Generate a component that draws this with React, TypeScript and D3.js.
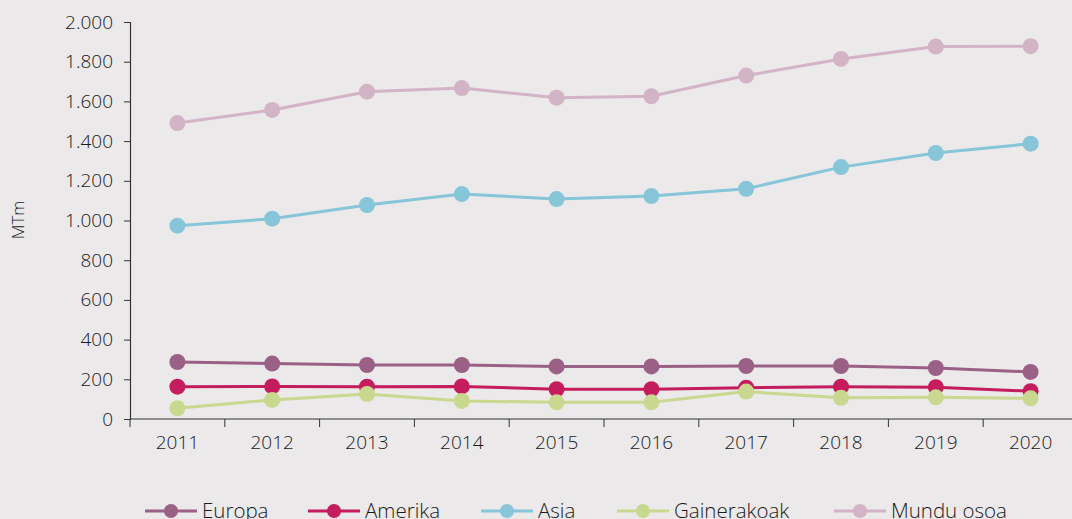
import React, { useRef, useEffect } from "react";
import * as d3 from "d3";

const years = ["2011", "2012", "2013", "2014", "2015", "2016", "2017", "2018", "2019", "2020"];
const europa = [287, 279, 272, 272, 265, 265, 267, 267, 257, 237];
const amerika = [163, 164, 163, 164, 150, 150, 158, 163, 160, 140];
const asia = [974, 1009, 1078, 1133, 1108, 1123, 1160, 1269, 1340, 1387];
const gainerakoak = [54, 96, 126, 91, 84, 84, 138, 107, 109, 104];
const munduOsoa = [1491, 1557, 1649, 1667, 1619, 1626, 1730, 1814, 1876, 1878];
const yTicks = [0, 200, 400, 600, 800, 1000, 1200, 1400, 1600, 1800, 2000];

const seriesNames = ["Europa", "Amerika", "Asia", "Gainerakoak", "Mundu osoa"];
const seriesColors = ["#9b6085", "#c51c5e", "#86c6d8", "#c8d98f", "#d3b4c6"];

const fmt = (v: number) => d3.format(",")(v).replace(/,/g, ".");

const App = () => {
  const svgRef = useRef<SVGSVGElement>(null);

  useEffect(() => {
    const width = 1072;
    const height = 519;
    const svg = d3.select(svgRef.current).attr("width", width).attr("height", height);
    svg.selectAll("*").remove();

    const font = "'Open Sans', sans-serif";
    const textColor = "#1a1a1a";
    svg.append("rect").attr("width", width).attr("height", height).attr("fill", "#ebe9ea");

    const left = 130;
    const x = d3.scaleBand().domain(years).range([left, left + 94.8 * 10]);
    const y = d3.scaleLinear().domain([0, 2000]).range([419, 22]);

    // y axis
    const yAxis = svg.append("g").attr("transform", `translate(${left},0)`)
      .call(d3.axisLeft(y).tickValues(yTicks).tickFormat((d) => fmt(+d)).tickSize(6).tickPadding(11));
    yAxis.select(".domain").attr("stroke", "#333").attr("stroke-width", 1.2);
    yAxis.selectAll(".tick line").attr("stroke", "#333");
    yAxis.selectAll("text").attr("font-family", font).attr("font-size", 19)
      .attr("font-weight", 300).attr("fill", textColor);

    // x axis
    const xAxis = svg.append("g").attr("transform", "translate(0,419)")
      .call(d3.axisBottom(x).tickSize(0).tickPadding(17));
    xAxis.select(".domain").attr("stroke", "#333").attr("stroke-width", 1.2)
      .attr("d", `M${left},0H${width}`);
    xAxis.selectAll("text").attr("font-family", font).attr("font-size", 19)
      .attr("font-weight", 300).attr("fill", textColor);
    xAxis.selectAll(".sep").data(years).enter().append("line")
      .attr("x1", (d) => x(d)!).attr("x2", (d) => x(d)!)
      .attr("y1", 0).attr("y2", 8).attr("stroke", "#333");

    svg.append("text")
      .attr("transform", "translate(24,220) rotate(-90)")
      .attr("text-anchor", "middle")
      .attr("font-family", font).attr("font-size", 17).attr("font-weight", 300)
      .attr("fill", textColor)
      .text("MTm");

    const allSeries = [europa, amerika, asia, gainerakoak, munduOsoa];
    const cx = (i: number) => x(years[i])! + x.bandwidth() / 2;
    const line = d3.line<number>().x((_, i) => cx(i)).y((d) => y(d));

    allSeries.forEach((vals, s) => {
      const g = svg.append("g");
      g.append("path").datum(vals).attr("d", line).attr("fill", "none")
        .attr("stroke", seriesColors[s]).attr("stroke-width", 3);
      g.selectAll("circle").data(vals).enter().append("circle")
        .attr("cx", (_, i) => cx(i)).attr("cy", (d) => y(d)).attr("r", 8)
        .attr("fill", seriesColors[s]);
    });

    // legend (cut at the bottom edge, as in the original)
    const legendX = [145, 308, 481, 617, 834];
    const legend = svg.append("g");
    seriesNames.forEach((name, s) => {
      const lg = legend.append("g").attr("transform", `translate(${legendX[s]},511)`);
      lg.append("line").attr("x1", 0).attr("x2", 52).attr("stroke", seriesColors[s]).attr("stroke-width", 3);
      lg.append("circle").attr("cx", 26).attr("r", 7).attr("fill", seriesColors[s]);
      lg.append("text").attr("x", 57).attr("y", 7)
        .attr("font-family", font).attr("font-size", 20.5).attr("font-weight", 300)
        .attr("fill", textColor).text(name);
    });
  }, []);

  return (
    <svg ref={svgRef} style={{ position: "absolute", left: 0, top: 0 }}></svg>
  );
};

export default App;
